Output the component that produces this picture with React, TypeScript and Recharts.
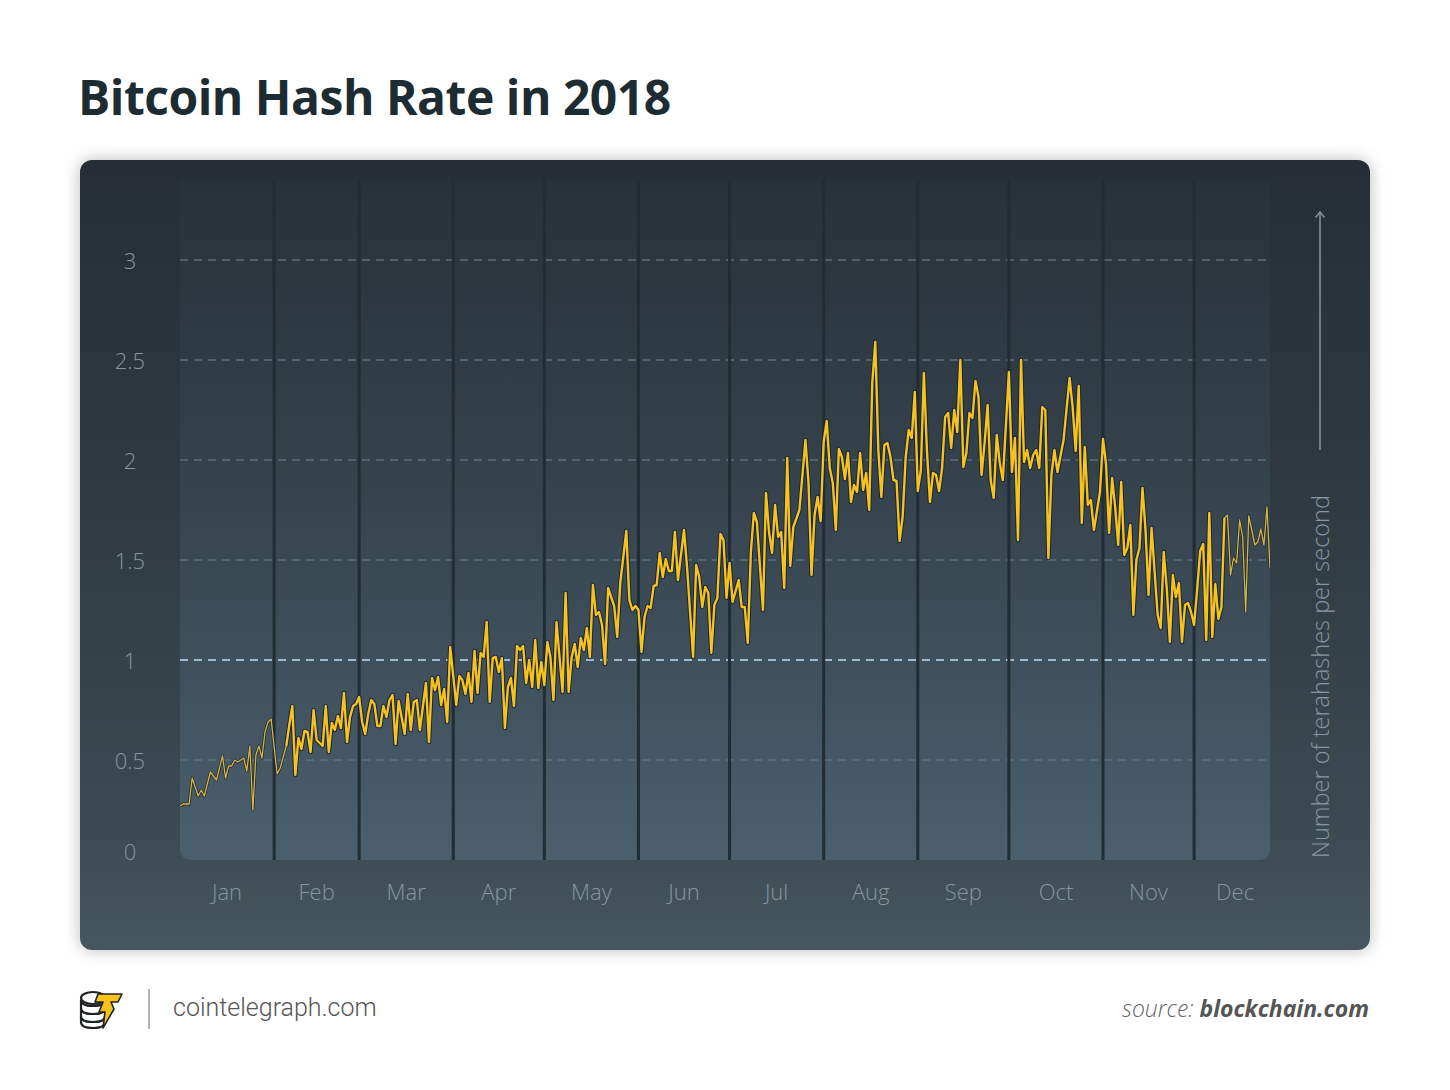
import React from 'react';
import { LineChart, Line, XAxis, YAxis, ReferenceLine, ReferenceArea, Rectangle } from 'recharts';

// ── Data (TH/s) ───────────────────────────────────────────────
const MONTHS = ['Jan', 'Feb', 'Mar', 'Apr', 'May', 'Jun', 'Jul', 'Aug', 'Sep', 'Oct', 'Nov', 'Dec'];
const MONTH_STARTS = [31, 59, 90, 120, 151, 181, 212, 243, 273, 304, 334];
const MONTH_MIDS = [15.5, 45, 74.5, 105, 135.5, 166, 196.5, 227.5, 258, 288.5, 319, 347.5];
const Y_TICKS = [0, 0.5, 1, 1.5, 2, 2.5, 3];
const GRID_LINES = [0.5, 1, 1.5, 2, 2.5, 3];

// [day of year, terahashes per second]
const JAN: [number, number][] = [[0,0.27],[1,0.28],[3,0.28],[4,0.41],[6,0.32],[7,0.35],[8,0.32],[10,0.44],[12,0.40],[14,0.52],[15,0.41],[16,0.47],[17,0.47],[18,0.5],[19,0.49],[21,0.51],[22,0.445],[23,0.57],[24,0.25],[25,0.525],[26,0.57],[27,0.51],[28,0.64],[29,0.69],[30,0.705]];
const FEB: [number, number][] = [[32,0.43],[33,0.46],[35,0.57],[36,0.675],[37,0.77],[38,0.425],[39,0.61],[40,0.555],[41,0.645],[42,0.64],[43,0.54],[44,0.75],[45,0.6],[47,0.57],[48,0.77],[49,0.54],[50,0.685],[51,0.65],[52,0.72],[53,0.66],[54,0.835],[55,0.59],[56,0.715],[57,0.77],[58,0.78]];
const MAR: [number, number][] = [[59,0.815],[60,0.69],[61,0.63],[62,0.73],[63,0.8],[64,0.78],[65,0.67],[66,0.67],[67,0.77],[68,0.715],[69,0.8],[70,0.825],[71,0.58],[72,0.795],[74,0.63],[75,0.83],[76,0.65],[77,0.79],[78,0.8],[79,0.65],[81,0.885],[82,0.59],[83,0.91],[84,0.85],[85,0.915],[86,0.775],[87,0.855],[88,0.69],[89,1.065]];
const APR: [number, number][] = [[91,0.775],[92,0.92],[93,0.9],[94,0.83],[95,0.935],[96,0.79],[97,1.045],[98,0.835],[99,1.035],[100,1.015],[101,1.19],[102,0.79],[103,1.01],[104,1.015],[105,0.94],[106,1.01],[107,0.66],[108,0.865],[109,0.91],[110,0.77],[111,1.07],[112,1.05],[113,1.07],[114,0.885],[115,1.0],[116,0.865],[117,1.1],[118,0.86],[119,0.99]];
const MAY: [number, number][] = [[120,0.875],[121,1.09],[122,1.015],[123,0.8],[124,1.19],[125,1.015],[126,0.84],[127,1.335],[128,0.84],[129,1.015],[130,1.08],[131,0.965],[132,1.11],[133,1.05],[134,1.16],[135,1.015],[136,1.375],[137,1.225],[138,1.24],[139,1.175],[140,0.98],[141,1.36],[143,1.27],[144,1.115],[145,1.385],[147,1.645],[148,1.3],[149,1.25],[150,1.27]];
const JUN: [number, number][] = [[151,1.25],[152,1.04],[153,1.215],[154,1.27],[155,1.26],[156,1.37],[157,1.375],[158,1.535],[159,1.415],[160,1.505],[161,1.445],[162,1.445],[163,1.64],[164,1.4],[166,1.65],[167,1.465],[169,1.015],[170,1.475],[171,1.415],[172,1.265],[173,1.365],[174,1.335],[175,1.035],[176,1.275],[177,1.31],[178,1.63],[179,1.6],[180,1.31]];
const JUL: [number, number][] = [[181,1.485],[182,1.29],[184,1.4],[185,1.265],[186,1.265],[187,1.085],[188,1.535],[189,1.735],[190,1.69],[192,1.25],[193,1.835],[194,1.64],[195,1.535],[196,1.775],[197,1.615],[198,1.64],[199,1.36],[200,2.01],[201,1.47],[202,1.665],[204,1.75],[206,2.1],[207,1.885],[208,1.425],[209,1.725],[210,1.815],[211,1.695]];
const AUG: [number, number][] = [[212,2.09],[213,2.195],[214,1.96],[215,1.885],[216,1.65],[217,2.055],[218,2.015],[219,1.905],[220,2.035],[221,1.79],[222,1.875],[223,1.84],[224,2.035],[225,1.85],[226,1.935],[227,1.75],[228,2.385],[229,2.59],[230,2.05],[231,1.815],[232,2.075],[233,2.085],[234,2.015],[235,1.9],[236,1.895],[237,1.595],[238,1.715],[239,2.01],[240,2.15],[241,2.11],[242,2.34]];
const SEP: [number, number][] = [[243,1.845],[244,1.95],[245,2.435],[246,2.05],[247,1.79],[248,1.935],[249,1.925],[250,1.845],[251,1.96],[252,2.215],[253,2.235],[254,2.06],[255,2.25],[256,2.14],[257,2.5],[258,1.965],[259,2.035],[260,2.235],[261,2.21],[262,2.395],[263,2.315],[264,1.925],[265,2.085],[266,2.275],[267,1.9],[268,1.81],[269,2.125],[270,1.985],[271,1.9]];
const OCT: [number, number][] = [[273,2.44],[274,1.94],[275,2.11],[276,1.6],[277,2.5],[278,1.99],[279,2.05],[280,1.96],[281,2.025],[282,2.05],[283,1.96],[284,2.265],[285,2.25],[286,1.51],[287,1.925],[288,2.05],[289,1.94],[291,2.1],[293,2.41],[294,2.265],[295,2.045],[296,2.37],[297,1.685],[298,2.065],[299,1.775],[300,1.8],[301,1.65],[303,1.84]];
const NOV: [number, number][] = [[304,2.105],[305,1.98],[306,1.635],[307,1.91],[308,1.765],[309,1.575],[310,1.89],[311,1.525],[312,1.56],[313,1.675],[314,1.225],[315,1.5],[316,1.56],[317,1.86],[318,1.65],[319,1.325],[320,1.66],[321,1.44],[322,1.225],[323,1.16],[324,1.54],[325,1.36],[326,1.09],[327,1.425],[328,1.315],[329,1.385],[330,1.09],[331,1.275],[332,1.285],[333,1.24]];
const DEC: [number, number][] = [[334,1.175],[335,1.35],[336,1.545],[337,1.58],[338,1.1],[339,1.735],[340,1.115],[341,1.38],[342,1.205],[343,1.265],[344,1.71],[345,1.725],[346,1.425],[347,1.51],[348,1.485],[349,1.7],[350,1.615],[351,1.24],[352,1.72],[353,1.65],[354,1.575],[355,1.59],[356,1.655],[357,1.575],[358,1.765],[359,1.46]];

// the line is drawn thinner at both ends of the year
const THIN_BEFORE = 35;
const THIN_AFTER = 344;

const rows = [...JAN, ...FEB, ...MAR, ...APR, ...MAY, ...JUN, ...JUL, ...AUG, ...SEP, ...OCT, ...NOV, ...DEC].map(
  ([day, v]) => ({
    day,
    v,
    thick: day >= THIN_BEFORE && day <= THIN_AFTER ? v : null,
    thin: day <= THIN_BEFORE || day >= THIN_AFTER ? v : null,
  }),
);

const LABEL = '#8796a0';
const FONT = '"Open Sans", "Noto Sans", sans-serif';

function YTick(props: { x?: number; y?: number; payload?: { value: number } }) {
  const { y = 0, payload } = props;
  const v = payload?.value ?? 0;
  return (
    <text x={50} y={y} dy={v === 0 ? -9 : 0} textAnchor="middle" dominantBaseline="central"
      fill={LABEL} fontSize={22} fontFamily={FONT} fontWeight={300}>
      {v}
    </text>
  );
}

function XTick(props: { x?: number; y?: number; payload?: { value: number } }) {
  const { x = 0, y = 0, payload } = props;
  const i = MONTH_MIDS.indexOf(payload?.value ?? -1);
  return (
    <text x={x} y={y} dy={32} textAnchor="middle" fill={LABEL} fontSize={22} fontFamily={FONT} fontWeight={300}>
      {MONTHS[i] ?? ''}
    </text>
  );
}

function Logo() {
  return (
    <svg width={50} height={44} viewBox="0 0 50 44" style={{ position: 'absolute', left: 78, top: 988 }}>
      <g fill="#fff" stroke="#1f2326" strokeWidth={2.2}>
        <path d="M3 28 q0 6 12 6 q12 0 12 -6 v6 q0 6 -12 6 q-12 0 -12 -6 z" />
        <path d="M3 20 q0 6 12 6 q12 0 12 -6 v8 q0 6 -12 6 q-12 0 -12 -6 z" />
        <path d="M3 12 q0 6 12 6 q12 0 12 -6 v8 q0 6 -12 6 q-12 0 -12 -6 z" />
        <ellipse cx={15} cy={10} rx={12} ry={6} />
      </g>
      <path d="M20 6 L44 6 L40 14 L33 14 L36 21 L25 40 L27 24 L21 24 L25 14 L17 14 Z"
        fill="#f7c21c" stroke="#1f2326" strokeWidth={1.6} strokeLinejoin="round" />
    </svg>
  );
}

export default function App() {
  return (
    <div style={{ position: 'absolute', left: 0, top: 0, width: 1450, height: 1090, background: '#fff', overflow: 'hidden' }}>
      <div style={{ position: 'absolute', left: 78, top: 73, fontFamily: FONT, fontWeight: 700, fontSize: 48, color: '#1d2b33', lineHeight: 1, letterSpacing: -0.5 }}>
        Bitcoin Hash Rate in 2018
      </div>

      <div style={{
        position: 'absolute', left: 80, top: 160, width: 1290, height: 790, borderRadius: 12,
        background: 'linear-gradient(180deg, #252e36 0%, #2e3941 40%, #3c4a53 85%, #46565f 100%)',
        boxShadow: '0 0 16px rgba(0,0,0,0.28)',
      }}>
        <LineChart width={1290} height={790} data={rows} margin={{ top: 20, right: 100, bottom: 60, left: 0 }}>
          <defs>
            <linearGradient id="plotBg" x1="0" y1="0" x2="0" y2="1">
              <stop offset="0%" stopColor="#27313a" />
              <stop offset="45%" stopColor="#35434d" />
              <stop offset="100%" stopColor="#4b5f6d" />
            </linearGradient>
          </defs>
          <XAxis type="number" dataKey="day" domain={[0, 359]} ticks={MONTH_MIDS} tick={<XTick />}
            axisLine={false} tickLine={false} height={30} allowDataOverflow />
          <YAxis type="number" domain={[0, 3.4]} ticks={Y_TICKS} tick={<YTick />}
            axisLine={false} tickLine={false} width={100} allowDataOverflow />
          <ReferenceArea x1={0} x2={359} y1={0} y2={3.4} fill="url(#plotBg)" fillOpacity={1} stroke="none"
            shape={(p: any) => <Rectangle {...p} radius={[0, 0, 10, 10]} />} />
          {GRID_LINES.map((g) => (
            <ReferenceLine key={g} y={g} stroke={g === 1 ? '#9dbcd0' : '#5b707e'} strokeWidth={g === 1 ? 2 : 1.5}
              strokeDasharray="8 6" />
          ))}
          {MONTH_STARTS.map((d) => (
            <ReferenceLine key={d} x={d} stroke="#222c33" strokeWidth={3} />
          ))}
          <Line type="linear" dataKey="thick" stroke="#172638" strokeWidth={4.4} strokeLinejoin="round"
            dot={false} isAnimationActive={false} />
          <Line type="linear" dataKey="thin" stroke="#1c2b3b" strokeWidth={2.8} strokeLinejoin="round"
            dot={false} isAnimationActive={false} />
          <Line type="linear" dataKey="thick" stroke="#f7c21c" strokeWidth={2.4} strokeLinejoin="round"
            dot={false} isAnimationActive={false} />
          <Line type="linear" dataKey="thin" stroke="#d8b53c" strokeWidth={1.3} strokeLinejoin="round"
            dot={false} isAnimationActive={false} />
        </LineChart>
      </div>

      <svg width={1450} height={1090} style={{ position: 'absolute', left: 0, top: 0, pointerEvents: 'none' }}>
        <text transform="translate(1320,858) rotate(-90)" textAnchor="start" dominantBaseline="central"
          fill={LABEL} fontSize={23.5} fontFamily={FONT} fontWeight={300}>
          Number of terahashes per second
        </text>
        <line x1={1320} y1={450} x2={1320} y2={212} stroke={LABEL} strokeWidth={1.5} />
        <polyline points="1315.5,217.5 1320,212 1324.5,217.5" fill="none" stroke={LABEL} strokeWidth={1.5} />
        <line x1={149} y1={989} x2={149} y2={1029} stroke="#9a9a9a" strokeWidth={1.5} />
      </svg>

      <Logo />
      <div style={{ position: 'absolute', left: 173, top: 993, fontFamily: 'Roboto, sans-serif', fontWeight: 300, fontSize: 25, color: '#555', lineHeight: '30px' }}>
        cointelegraph.com
      </div>
      <div style={{ position: 'absolute', right: 81, top: 993, fontFamily: FONT, fontSize: 23, fontStyle: 'italic', color: '#666', lineHeight: '30px', whiteSpace: 'nowrap' }}>
        <span style={{ fontWeight: 300 }}>source: </span>
        <span style={{ fontWeight: 700, color: '#555' }}>blockchain.com</span>
      </div>
    </div>
  );
}
